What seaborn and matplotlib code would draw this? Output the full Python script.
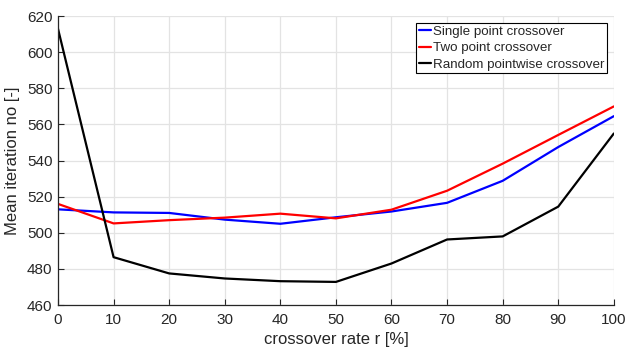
import numpy as np
import pandas as pd
import matplotlib
matplotlib.use("Agg")
import matplotlib.pyplot as plt
import seaborn as sns

rate = [0, 10, 20, 30, 40, 50, 60, 70, 80, 90, 100]
single_point = [513, 511.3, 511, 507.3, 505, 508.6, 511.8, 516.6, 528.8, 547.5, 564.6]
two_point = [516, 505.2, 507, 508.4, 510.6, 508, 512.8, 523.3, 538.3, 554.2, 570]
random_pointwise = [613, 486.5, 477.5, 474.7, 473.2, 472.8, 483, 496.3, 498, 514.5, 555]

series_names = ["Single point crossover", "Two point crossover", "Random pointwise crossover"]
colors = ["#0000ff", "#ff0000", "#000000"]

df = pd.DataFrame({
    "rate": rate * 3,
    "value": single_point + two_point + random_pointwise,
    "method": [series_names[0]] * len(rate) + [series_names[1]] * len(rate) + [series_names[2]] * len(rate),
})

sns.set_theme(style="whitegrid")
plt.rcParams["font.family"] = ["Liberation Sans", "DejaVu Sans"]

fig = plt.figure(figsize=(6.27, 3.51), dpi=100)
ax = fig.add_axes([0.0925, 0.131, 0.8865, 0.823])

sns.lineplot(data=df, x="rate", y="value", hue="method", palette=colors,
             hue_order=series_names, linewidth=1.6, ax=ax)

ax.set_xlim(0, 100)
ax.set_ylim(460, 620)
ax.set_xticks(range(0, 101, 10))
ax.set_yticks(range(460, 621, 20))
ax.grid(True, color="#e3e3e3", linewidth=0.9)
for s in ["top", "right"]:
    ax.spines[s].set_visible(False)
for s in ["left", "bottom"]:
    ax.spines[s].set_color("#262626")
    ax.spines[s].set_linewidth(0.9)
ax.tick_params(axis="both", direction="in", length=4, width=0.8, color="#262626",
               labelsize=11, labelcolor="#262626")
ax.tick_params(axis="x", pad=6)
ax.tick_params(axis="y", pad=4)
ax.tick_params(axis="both", which="both", left=True, bottom=True)
ax.set_xlabel("crossover rate r [%]", fontsize=12, color="#262626", labelpad=3)
ax.set_ylabel("Mean iteration no [-]", fontsize=12, color="#262626", labelpad=5)

leg = ax.legend(loc="upper right", bbox_to_anchor=(0.993, 0.985), fontsize=9.6,
                frameon=True, fancybox=False, edgecolor="#000000",
                handlelength=0.9, handletextpad=0.15, borderpad=0.2,
                labelspacing=0.3, borderaxespad=0.2)
leg.get_frame().set_linewidth(0.8)
leg.get_frame().set_alpha(1)
for line in leg.get_lines():
    line.set_linewidth(1.6)

fig.savefig("out.png", dpi=100)
